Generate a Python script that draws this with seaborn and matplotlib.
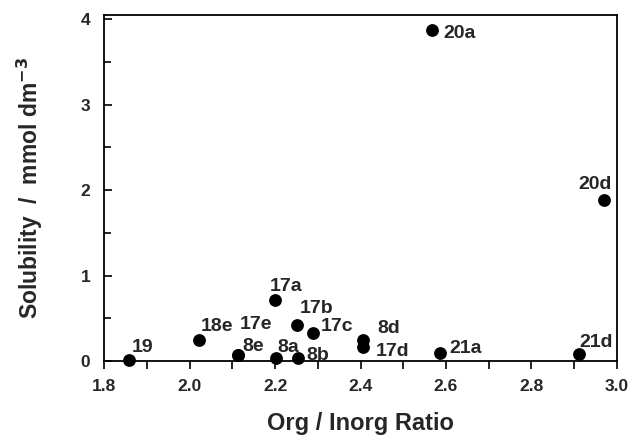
import numpy as np
import pandas as pd
import matplotlib
matplotlib.use("Agg")
import matplotlib.pyplot as plt
import seaborn as sns
from matplotlib.ticker import MultipleLocator

# data
labels = ['19', '18e', '17e', '8e', '17a', '8a', '17b', '8b', '17c',
          '8d', '17d', '21a', '20a', '20d', '21d']
ratio = [1.857, 2.022, 2.113, 2.113, 2.200, 2.201, 2.251, 2.253, 2.288,
         2.406, 2.406, 2.586, 2.567, 2.971, 2.912]
solubility = [0.01, 0.25, 0.07, 0.07, 0.71, 0.04, 0.42, 0.04, 0.33,
              0.25, 0.16, 0.09, 3.88, 1.88, 0.08]

# label offsets (points) from each marker, text baseline / left edge
offsets = [(2, 6), (1.5, 6), (1, 19), (3, 3), (-4, 7), (1, 4), (2, 9), (6, -2),
           (6, 1), (10, 5), (9, -6), (7, 0), (8, -6), (-19, 8), (0, 5)]

df = pd.DataFrame({'Ratio': ratio, 'Solubility': solubility, 'Label': labels})

sns.set_theme(style="ticks")
plt.rcParams['font.family'] = ['Liberation Sans', 'DejaVu Sans']

fig = plt.figure(figsize=(6.32, 4.44), dpi=100)
ax = fig.add_axes([0.165, 0.187, 0.811, 0.779])

sns.scatterplot(data=df, x='Ratio', y='Solubility', color='black',
                s=85, edgecolor='black', linewidth=0, ax=ax, zorder=3,
                clip_on=False)

for lab, x, y, off in zip(labels, ratio, solubility, offsets):
    ax.annotate(lab, (x, y), xytext=off, textcoords='offset points',
                ha='left', va='baseline', fontsize=14, fontweight='bold')

ax.set_xlim(1.8, 3.0)
ax.set_ylim(0, 4.05)
ax.xaxis.set_major_locator(MultipleLocator(0.2))
ax.xaxis.set_minor_locator(MultipleLocator(0.1))
ax.yaxis.set_major_locator(MultipleLocator(1))
ax.yaxis.set_minor_locator(MultipleLocator(0.5))
ax.set_xticks(np.arange(1.8, 3.01, 0.2))
ax.set_xticklabels(['1.8', '2.0', '2.2', '2.4', '2.6', '2.8', '3.0'])

ax.tick_params(axis='x', which='both', direction='out', length=6, width=1.2,
               color='black', pad=7)
ax.tick_params(axis='y', which='both', direction='in', length=6, width=1.2,
               color='black', pad=10)
ax.tick_params(axis='y', which='minor', length=5)
for lab in ax.get_xticklabels() + ax.get_yticklabels():
    lab.set_fontweight('bold')
    lab.set_fontsize(12.5)

for sp in ax.spines.values():
    sp.set_color('black')
    sp.set_linewidth(1.3)

ax.set_xlabel('Org / Inorg Ratio', fontsize=17, fontweight='bold', labelpad=13)
ax.set_ylabel('Solubility  /  mmol dm$^{\\mathbf{-3}}$', fontsize=16.5,
              fontweight='bold', labelpad=26)

fig.savefig('out.png', dpi=100)
